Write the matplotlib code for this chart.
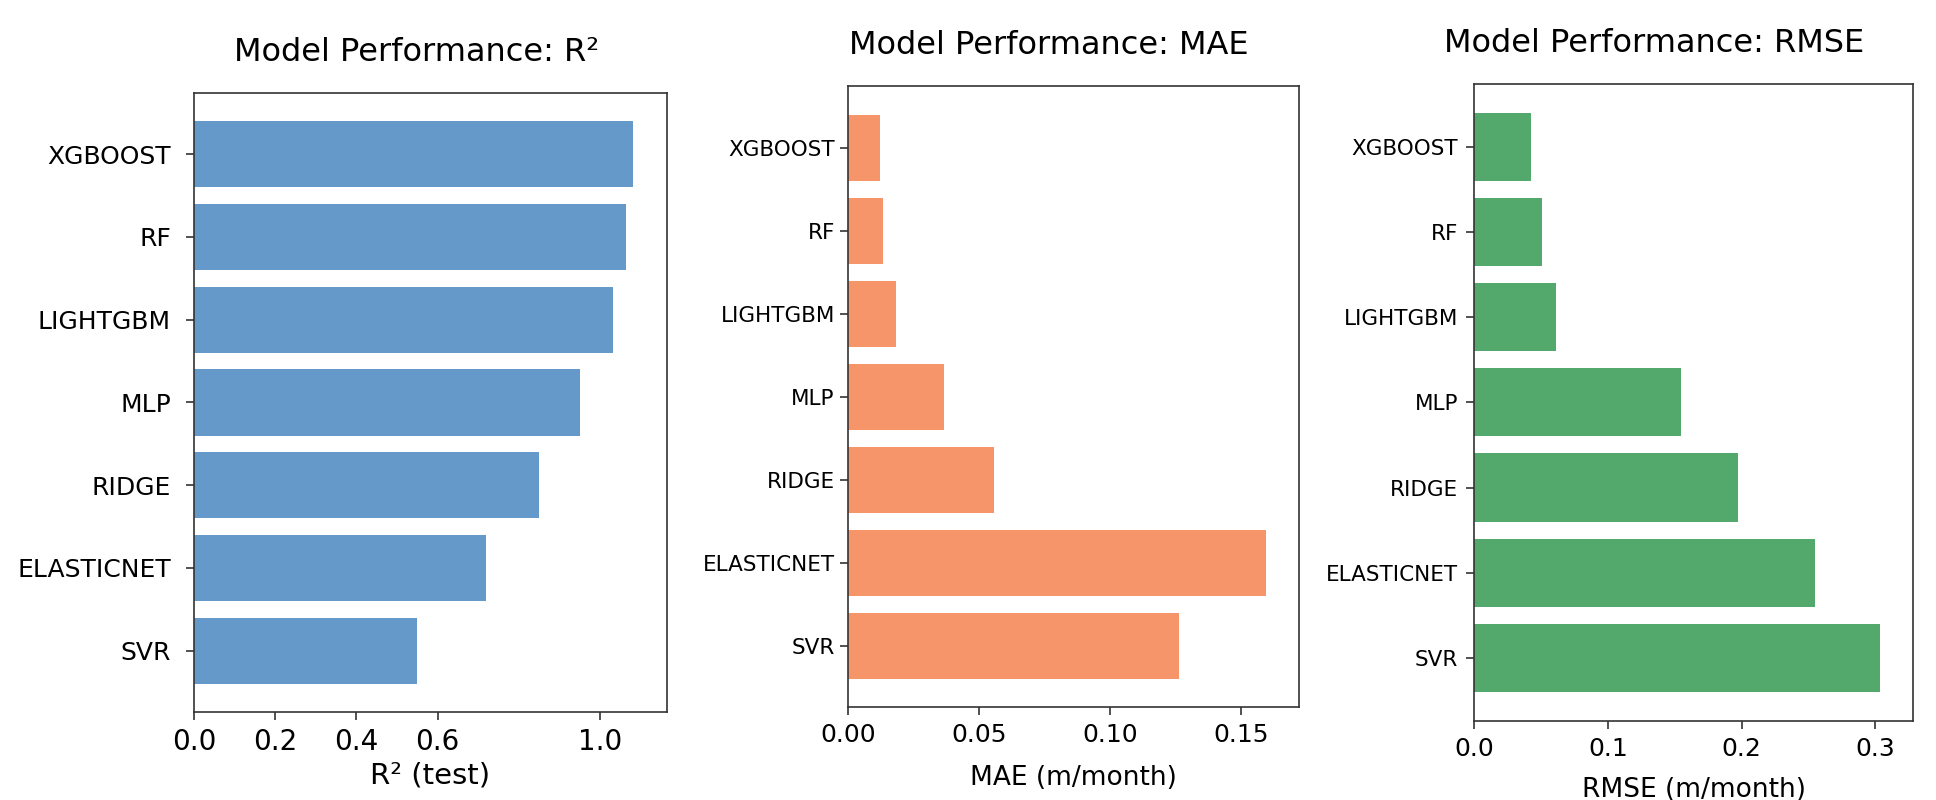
import numpy as np
import matplotlib.pyplot as plt

# data (top to bottom as shown)
models = ["XGBOOST", "RF", "LIGHTGBM", "MLP", "RIDGE", "ELASTICNET", "SVR"]
r2_test = [1.082, 1.063, 1.033, 0.950, 0.849, 0.719, 0.549]
mae = [0.0124, 0.0133, 0.0184, 0.0367, 0.0556, 0.1594, 0.1264]
rmse = [0.0429, 0.0505, 0.0614, 0.155, 0.197, 0.255, 0.3035]

r2_ticks = [0.0, 0.2, 0.4, 0.6, 1.0]
mae_ticks = [0.00, 0.05, 0.10, 0.15]
rmse_ticks = [0.0, 0.1, 0.2, 0.3]

fig = plt.figure(figsize=(19.36, 8), dpi=100)

# axes boxes in figure fractions
ax1 = fig.add_axes([0.1002, 0.110, 0.2443, 0.774])
ax2 = fig.add_axes([0.4380, 0.116, 0.2330, 0.776])
ax3 = fig.add_axes([0.7614, 0.099, 0.2267, 0.796])

panels = [
    (ax1, r2_test, "#6599ca", "Model Performance: R\u00b2", "R\u00b2 (test)",
     r2_ticks, "{:.1f}", 1.165, 0.47, 18, 20, 21, 11, 4),
    (ax2, mae, "#f6946a", "Model Performance: MAE", "MAE (m/month)",
     mae_ticks, "{:.2f}", 0.172, 0.445, 15.5, 18, 19, 4, 13),
    (ax3, rmse, "#52a96b", "Model Performance: RMSE", "RMSE (m/month)",
     rmse_ticks, "{:.1f}", 0.328, 0.41, 15.5, 18, 19, 6, 12),
]

y = np.arange(len(models))
for ax, vals, col, title, xlab, ticks, fmt, xmax, tx, ysz, xsz, lsz, ypad, lpad in panels:
    ax.barh(y, vals, height=0.8, color=col)
    ax.set_yticks(y)
    ax.set_yticklabels(models)
    ax.invert_yaxis()
    ax.set_xlim(0, xmax)
    ax.set_xticks(ticks)
    ax.set_xticklabels([fmt.format(t) for t in ticks])
    ax.set_title(title, fontsize=23, pad=23, x=tx)
    ax.set_xlabel(xlab, fontsize=lsz, labelpad=lpad)
    ax.tick_params(axis="y", labelsize=ysz, length=5.5, width=1.2, pad=ypad, color="#333333")
    ax.tick_params(axis="x", labelsize=xsz, length=5.5, width=1.2, pad=6, color="#333333")
    for sp in ax.spines.values():
        sp.set_color("#333333")
        sp.set_linewidth(1.2)

fig.savefig("out.png", dpi=100)
